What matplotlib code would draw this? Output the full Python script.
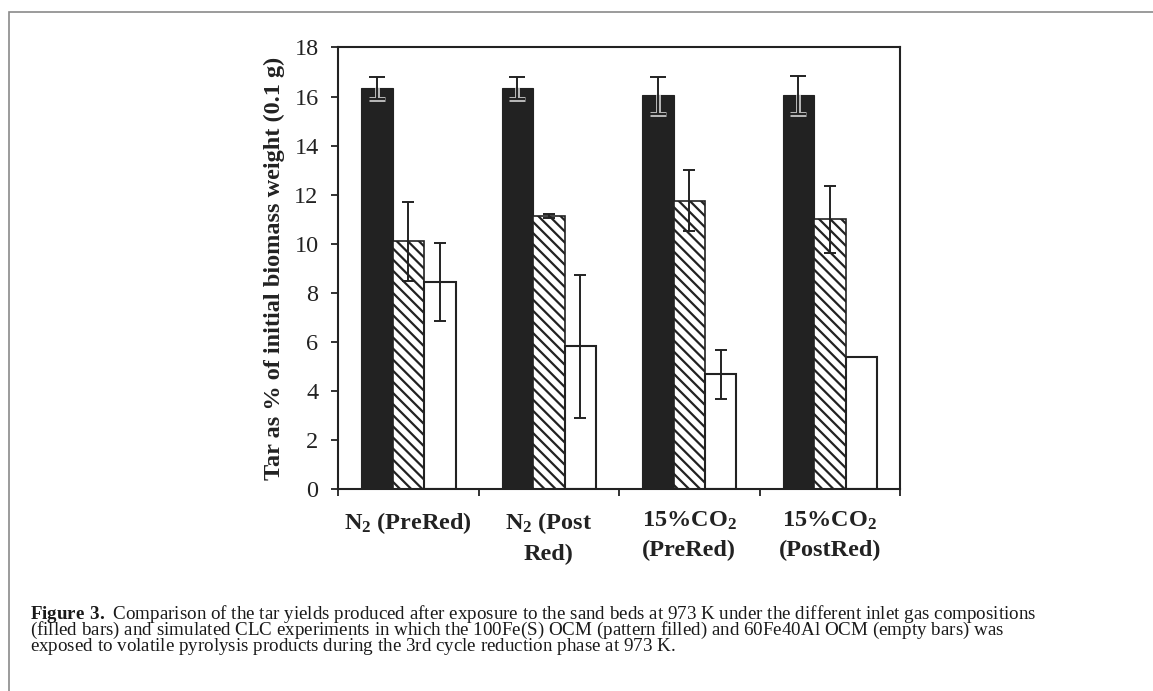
import numpy as np
import matplotlib
matplotlib.use('Agg')
import matplotlib.pyplot as plt
from matplotlib.patches import Rectangle

plt.rcParams['font.family'] = ['Liberation Serif', 'DejaVu Serif']
plt.rcParams['mathtext.fontset'] = 'custom'
plt.rcParams['mathtext.rm'] = 'Liberation Serif'
plt.rcParams['mathtext.bf'] = 'Liberation Serif:bold'
plt.rcParams['mathtext.default'] = 'bf'
plt.rcParams['hatch.linewidth'] = 1.6

# data
categories = ['N$_2$ (PreRed)', 'N$_2$ (Post\nRed)', '15%CO$_2$\n(PreRed)', '15%CO$_2$\n(PostRed)']
sand_tar = [16.35, 16.35, 16.05, 16.05]          # filled bars
sand_err = [0.45, 0.45, 0.75, 0.78]
fe100_tar = [10.1, 11.13, 11.75, 11.0]           # pattern filled
fe100_err = [1.6, 0.07, 1.25, 1.37]
fe60al40_tar = [8.43, 5.82, 4.67, 5.37]          # empty bars
fe60al40_err = [1.6, 2.92, 0.98, 0.0]

dark = '#222222'

fig = plt.figure(figsize=(11.53, 6.91), dpi=100)
ax = fig.add_axes([0.2932, 0.2923, 0.4874, 0.639])

x = np.arange(len(categories))
w = 0.224

b1 = ax.bar(x - w, sand_tar, w, color=dark, edgecolor=dark, linewidth=0.8, zorder=2)
b2 = ax.bar(x, fe100_tar, w, color='white', edgecolor=dark, hatch='\\\\\\', linewidth=1.2, zorder=2)
b3 = ax.bar(x + w, fe60al40_tar, w, color='white', edgecolor=dark, linewidth=1.5, zorder=2)

# error bars on the black bars: grey halo only where they sit inside the bar
for xi, yi, ei, patch in zip(x - w, sand_tar, sand_err, b1.patches):
    halo = ax.errorbar(xi, yi, yerr=ei, fmt='none', ecolor='#b5b5b5',
                       elinewidth=3.6, capsize=5.5, capthick=3.6, zorder=3)
    for art in list(halo.lines[1]) + list(halo.lines[2]):
        art.set_clip_path(patch)
    ax.errorbar(xi, yi, yerr=ei, fmt='none', ecolor=dark,
                elinewidth=1.4, capsize=5.5, capthick=1.4, zorder=4)

ax.errorbar(x, fe100_tar, yerr=fe100_err, fmt='none', ecolor=dark,
            elinewidth=1.4, capsize=4.5, capthick=1.4, zorder=4)
err3 = np.array(fe60al40_err)
has = err3 > 0
ax.errorbar((x + w)[has], np.array(fe60al40_tar)[has], yerr=err3[has], fmt='none',
            ecolor=dark, elinewidth=1.4, capsize=4.5, capthick=1.4, zorder=4)

ax.set_xlim(-0.5, 3.5)
ax.set_ylim(0, 18)
ax.set_yticks(np.arange(0, 19, 2))
ax.tick_params(axis='y', direction='out', length=5, width=1.3, pad=9,
               labelsize=17.5, colors=dark)

ax.set_xticks(x)
ax.set_xticklabels(categories, fontsize=17.5, fontweight='bold', linespacing=1.5)
ax.set_xticks(np.arange(-0.5, 4, 1), minor=True)
ax.tick_params(axis='x', which='major', length=0, pad=15, colors=dark)
ax.tick_params(axis='x', which='minor', direction='out', length=5, width=1.3, color=dark)

ax.set_ylabel('Tar as % of initial biomass weight (0.1 g)', fontsize=17.5,
              fontweight='bold', labelpad=7, color=dark)

for s in ax.spines.values():
    s.set_linewidth(1.5)
    s.set_color(dark)

# partial frame of the page box
fig.add_artist(Rectangle((9 / 1153, -0.1), 1.2, 1 - 12 / 691 + 0.1,
                         transform=fig.transFigure, fill=False,
                         edgecolor='#8a8a8a', linewidth=1.2))

# caption, one text block; bold lead-in via mathtext, and a trailing thin
# space on the other lines so every line gets the same (mathtext) metrics
caption = '\n'.join([
    r'$\mathbf{Figure\ 3.}$ Comparison of the tar yields produced after exposure to the sand beds at 973 K under the different inlet gas compositions',
    r'(filled bars) and simulated CLC experiments in which the 100Fe(S) OCM (pattern filled) and 60Fe40Al OCM (empty bars) was$\,$',
    r'exposed to volatile pyrolysis products during the 3rd cycle reduction phase at 973 K.$\,$',
])
fig.text(30 / 1153, 1 - 630 / 691, caption, fontsize=13.7, va='center', ha='left',
         linespacing=0.66, color='#1a1a1a')

fig.savefig('out.png', dpi=100)
